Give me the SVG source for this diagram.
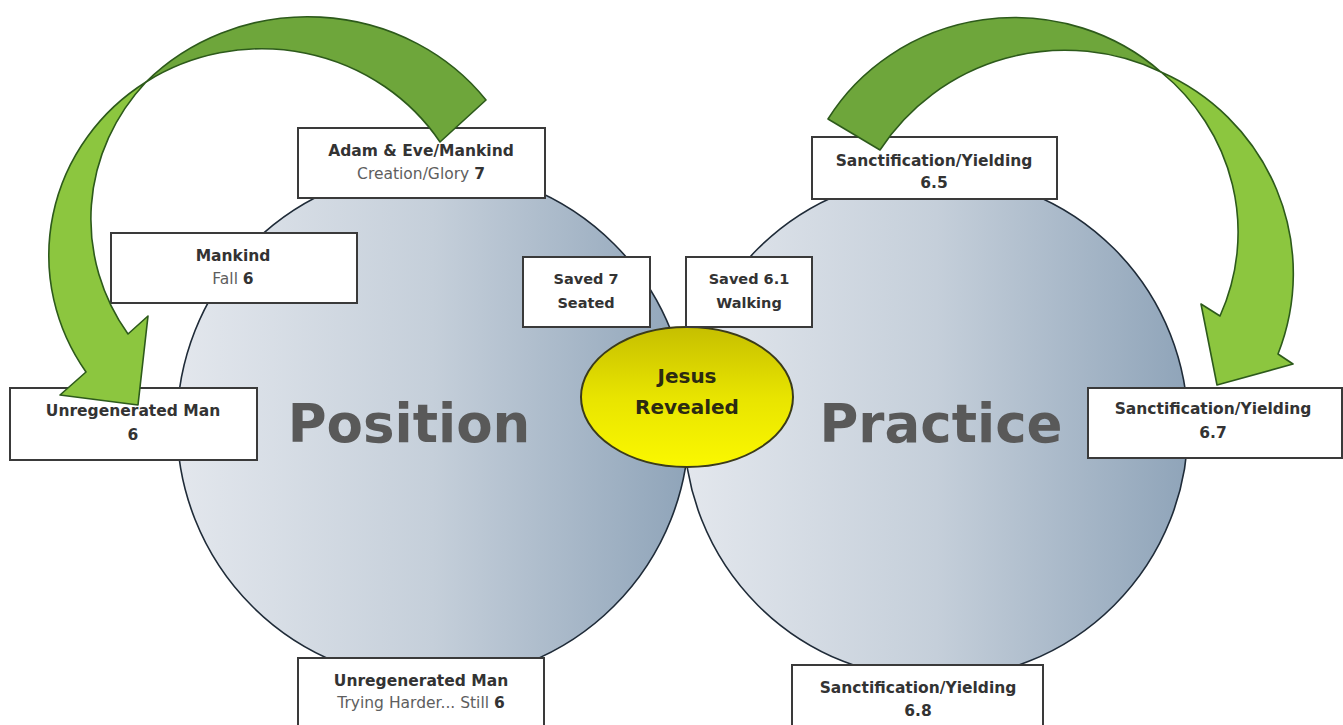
<svg xmlns="http://www.w3.org/2000/svg" width="1343" height="725" viewBox="0 0 1343 725">
<defs>
<linearGradient id="circ" x1="0" y1="0" x2="1" y2="0">
<stop offset="0" stop-color="#e3e7ed"/>
<stop offset="0.5" stop-color="#c5cfda"/>
<stop offset="1" stop-color="#8fa4b9"/>
</linearGradient>
<linearGradient id="yel" x1="0" y1="0" x2="0" y2="1">
<stop offset="0" stop-color="#c6bf00"/>
<stop offset="0.5" stop-color="#e8e400"/>
<stop offset="1" stop-color="#fbf800"/>
</linearGradient>
<style>
.circle{fill:url(#circ);stroke:#1f2b38;stroke-width:1.6}
.box{fill:#ffffff;stroke:#3a3a3a;stroke-width:2}
.t{font-family:"DejaVu Sans",Verdana,sans-serif;font-size:15.5px;text-anchor:middle;fill:#333333}
.b{font-weight:bold}
.r{font-weight:normal;fill:#5e5e5e}
.s{font-size:14.5px}
.big{font-family:"DejaVu Sans",Verdana,sans-serif;font-size:53px;font-weight:bold;fill:#595959;text-anchor:middle}
.jt{font-family:"DejaVu Sans",Verdana,sans-serif;font-size:20px;font-weight:bold;fill:#2b2a12;text-anchor:middle}
.dark{fill:#6ea63b;stroke:#2d5a1b;stroke-width:1.6;stroke-linejoin:round}
.light{fill:#8cc63f;stroke:#2d5a1b;stroke-width:1.6;stroke-linejoin:round}
</style>
</defs>
<rect width="1343" height="725" fill="#ffffff"/>

<g id="position-circle">
<circle class="circle" cx="433" cy="425" r="256"/>
<text class="big" x="409" y="442">Position</text>
</g>
<g id="practice-circle">
<circle class="circle" cx="936" cy="427" r="252"/>
<text class="big" x="941" y="442">Practice</text>
</g>

<g id="jesus">
<ellipse cx="687" cy="397" rx="106" ry="70" fill="url(#yel)" stroke="#3b3b1a" stroke-width="2"/>
<text class="jt" x="687" y="383">Jesus</text>
<text class="jt" x="687" y="414">Revealed</text>
</g>

<g id="adam">
<rect class="box" x="298" y="128" width="247" height="70"/>
<text class="t b" x="421" y="156">Adam &amp; Eve/Mankind</text>
<text class="t" x="421" y="179"><tspan class="r">Creation/Glory </tspan><tspan class="b">7</tspan></text>
</g>
<g id="mankind">
<rect class="box" x="111" y="233" width="246" height="70"/>
<text class="t b" x="233" y="261">Mankind</text>
<text class="t" x="233" y="284"><tspan class="r">Fall </tspan><tspan class="b">6</tspan></text>
</g>
<g id="unregen-6">
<rect class="box" x="10" y="388" width="247" height="72"/>
<text class="t b" x="133" y="416">Unregenerated Man</text>
<text class="t b" x="133" y="440">6</text>
</g>
<g id="saved-7">
<rect class="box" x="523" y="257" width="127" height="70"/>
<text class="t b s" x="586" y="284">Saved 7</text>
<text class="t b s" x="586" y="308">Seated</text>
</g>
<g id="saved-61">
<rect class="box" x="686" y="257" width="126" height="70"/>
<text class="t b s" x="749" y="284">Saved 6.1</text>
<text class="t b s" x="749" y="308">Walking</text>
</g>
<g id="sanct-65">
<rect class="box" x="812" y="137" width="245" height="62"/>
<text class="t b" x="934" y="166">Sanctification/Yielding</text>
<text class="t b" x="934" y="188">6.5</text>
</g>
<g id="sanct-67">
<rect class="box" x="1088" y="388" width="254" height="70"/>
<text class="t b" x="1213" y="414">Sanctification/Yielding</text>
<text class="t b" x="1213" y="438">6.7</text>
</g>
<g id="unregen-still6">
<rect class="box" x="298" y="658" width="246" height="72"/>
<text class="t b" x="421" y="686">Unregenerated Man</text>
<text class="t" x="421" y="708"><tspan class="r">Trying Harder... Still </tspan><tspan class="b">6</tspan></text>
</g>
<g id="sanct-68">
<rect class="box" x="792" y="665" width="251" height="65"/>
<text class="t b" x="918" y="693">Sanctification/Yielding</text>
<text class="t b" x="918" y="716">6.8</text>
</g>

<g id="connectors">
<path class="dark" d="M146,82 A222.6,208 0 0 1 486,100 L440,142 A213,206.6 0 0 0 146,82 Z"/>
<path class="light" d="M146,82 A213,206.6 0 0 0 86,372 L60,395 L138,405 L148,316 L128,334 A222.6,208 0 0 1 146,82 Z"/>
<path class="dark" d="M828,119 A218,210 0 0 1 1161,72 A221,220 0 0 0 880,150 Z"/>
<path class="light" d="M1161,72 A221,220 0 0 1 1278,354 L1293,364 L1217,385 L1201,304 L1220,316 A218,210 0 0 0 1161,72 Z"/>
</g>
</svg>
